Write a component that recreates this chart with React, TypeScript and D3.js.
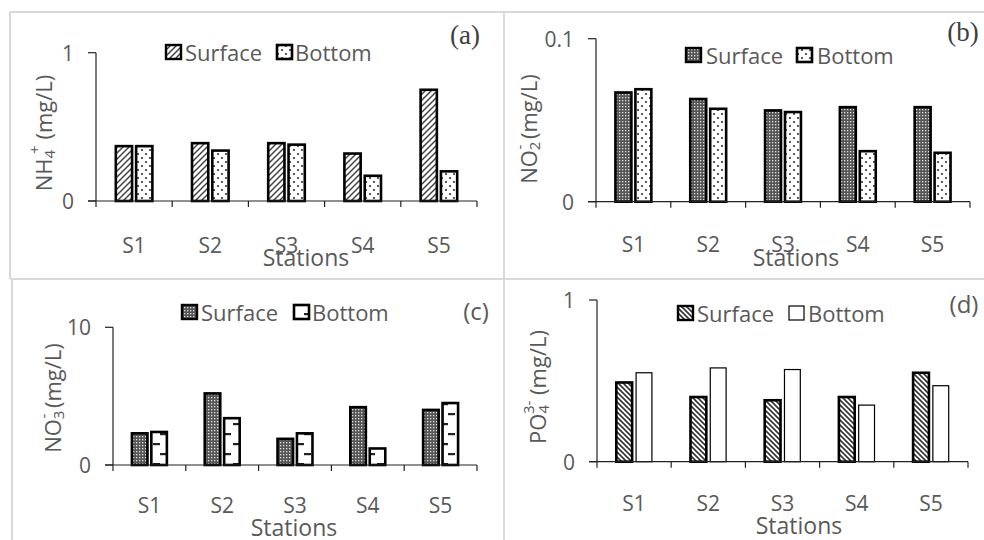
import React from 'react';
import * as d3 from 'd3';

// stations on the x axis
const stations = ['S1', 'S2', 'S3', 'S4', 'S5'];
const seriesNames = ['Surface', 'Bottom'];

// (a) NH4+
const nh4Surface = [0.37, 0.39, 0.39, 0.32, 0.75];
const nh4Bottom = [0.37, 0.34, 0.38, 0.17, 0.2];
const nh4Ticks = [0, 1];

// (b) NO2-
const no2Surface = [0.067, 0.063, 0.056, 0.058, 0.058];
const no2Bottom = [0.069, 0.057, 0.055, 0.031, 0.03];
const no2Ticks = [0, 0.1];

// (c) NO3-
const no3Surface = [2.3, 5.2, 1.9, 4.2, 4.0];
const no3Bottom = [2.4, 3.4, 2.3, 1.2, 4.5];
const no3Ticks = [0, 10];

// (d) PO4 3-
const po4Surface = [0.49, 0.4, 0.38, 0.4, 0.55];
const po4Bottom = [0.55, 0.58, 0.57, 0.35, 0.47];
const po4Ticks = [0, 1];

const FONT = '"Open Sans", "Liberation Sans", sans-serif';
const GRAY = '#595959';

interface PanelProps {
    surface: number[];
    bottom: number[];
    ticks: number[];
    x0: number;
    x1: number;
    yTop: number;
    yBase: number;
    fills: [string, string];
    bottomStroke: number;
    legend: { box1: number; text1: number; box2: number; text2: number; cy: number };
    tag: { text: string; x: number; y: number; serif: boolean };
    catY: number;
    title: { x: number; y: number };
    yLabel: { x: number; y: number; node: React.ReactNode };
}

const Panel: React.FC<PanelProps> = (p) => {
    const x = d3.scaleBand<string>().domain(stations).range([p.x0, p.x1]).padding(0);
    const y = d3.scaleLinear().domain([p.ticks[0], p.ticks[p.ticks.length - 1]]).range([p.yBase, p.yTop]);
    const groupW = x.bandwidth() * 0.48;
    const inner = d3.scaleBand<string>().domain(seriesNames).range([0, groupW]).paddingInner(0.2);
    const bounds = stations.map(s => x(s) as number).concat([p.x1]);
    const rows = stations.map((s, i) => ({ s, vals: [p.surface[i], p.bottom[i]] }));

    return (
        <g>
            {/* bars */}
            {rows.map(r => (
                <g key={r.s}>
                    {r.vals.map((v, j) => (
                        <rect
                            key={j}
                            x={(x(r.s) as number) + (x.bandwidth() - groupW) / 2 + (inner(seriesNames[j]) as number)}
                            y={y(v)}
                            width={inner.bandwidth()}
                            height={p.yBase - y(v)}
                            fill={p.fills[j]}
                            stroke="#000"
                            strokeWidth={j === 0 ? 2.6 : p.bottomStroke}
                        />
                    ))}
                </g>
            ))}
            {/* axes */}
            <line x1={p.x0} x2={p.x0} y1={p.yTop} y2={p.yBase} stroke="#222" strokeWidth={1.2} />
            <line x1={p.x0 - 8} x2={p.x1} y1={p.yBase} y2={p.yBase} stroke="#222" strokeWidth={1.2} />
            {p.ticks.map(t => (
                <g key={t}>
                    <line x1={p.x0 - 8} x2={p.x0} y1={y(t)} y2={y(t)} stroke="#222" strokeWidth={1.2} />
                    <text x={p.x0 - 22} y={y(t)} textAnchor="end" dominantBaseline="central"
                        fontSize={21} fill={GRAY} fontFamily={FONT}>{t}</text>
                </g>
            ))}
            {bounds.map((b, i) => (
                <line key={i} x1={b} x2={b} y1={p.yBase} y2={p.yBase + 6} stroke="#222" strokeWidth={1.2} />
            ))}
            {stations.map(s => (
                <text key={s} x={(x(s) as number) + x.bandwidth() / 2} y={p.catY} textAnchor="middle"
                    dominantBaseline="central" fontSize={21} fill={GRAY} fontFamily={FONT}>{s}</text>
            ))}
            <text x={p.title.x} y={p.title.y} textAnchor="middle" dominantBaseline="central"
                fontSize={23} fill={GRAY} fontFamily={FONT}>Stations</text>
            <text transform={`translate(${p.yLabel.x},${p.yLabel.y}) rotate(-90)`} textAnchor="middle"
                dominantBaseline="central" fontSize={22} fill={GRAY} fontFamily={FONT}>{p.yLabel.node}</text>
            {/* legend */}
            <rect x={p.legend.box1} y={p.legend.cy - 7} width={15} height={14} fill={p.fills[0]} stroke="#000" strokeWidth={2.4} />
            <text x={p.legend.text1} y={p.legend.cy} dominantBaseline="central" fontSize={22} fill={GRAY} fontFamily={FONT}>Surface</text>
            <rect x={p.legend.box2} y={p.legend.cy - 7} width={15} height={14} fill={p.fills[1]} stroke="#000" strokeWidth={p.bottomStroke} />
            <text x={p.legend.text2} y={p.legend.cy} dominantBaseline="central" fontSize={22} fill={GRAY} fontFamily={FONT}>Bottom</text>
            <text x={p.tag.x} y={p.tag.y} textAnchor="middle" dominantBaseline="central"
                fontSize={p.tag.serif ? 27 : 24}
                fill={p.tag.serif ? '#404040' : GRAY}
                fontFamily={p.tag.serif ? '"Liberation Serif", serif' : FONT}>{p.tag.text}</text>
        </g>
    );
};

const sub = (t: string) => <tspan dy={6} fontSize={15}>{t}</tspan>;
const sup = (t: string, dx: number) => <tspan dx={dx} dy={-15} fontSize={15}>{t}</tspan>;
const rest = <tspan dy={9}> (mg/L)</tspan>;

const App: React.FC = () => {
    return (
        <svg width={984} height={540} style={{ position: 'absolute', left: 0, top: 0, background: '#fff' }}>
            <defs>
                <pattern id="fwd" width={6} height={6} patternUnits="userSpaceOnUse">
                    <rect width={6} height={6} fill="#fff" />
                    <path d="M0,6 L6,0 M-1,1 L1,-1 M5,7 L7,5" stroke="#444" strokeWidth={1.5} />
                </pattern>
                <pattern id="back" width={5} height={5} patternUnits="userSpaceOnUse">
                    <rect width={5} height={5} fill="#fff" />
                    <path d="M0,0 L5,5 M-1,4 L1,6 M4,-1 L6,1" stroke="#333" strokeWidth={1.6} />
                </pattern>
                <pattern id="dots" width={8} height={8} patternUnits="userSpaceOnUse">
                    <rect width={8} height={8} fill="#fff" />
                    <circle cx={2} cy={2} r={1.1} fill="#333" />
                    <circle cx={6} cy={6} r={1.1} fill="#333" />
                </pattern>
                <pattern id="dense" width={3} height={3} patternUnits="userSpaceOnUse">
                    <rect width={3} height={3} fill="#555" />
                    <rect x={1} y={1} width={1.3} height={1.3} fill="#e0e0e0" />
                </pattern>
                <pattern id="dash" width={16} height={20} patternUnits="userSpaceOnUse">
                    <rect width={16} height={20} fill="#fff" />
                    <rect x={9} y={3} width={7} height={2.2} fill="#222" />
                    <rect x={0} y={13} width={7} height={2.2} fill="#222" />
                </pattern>
            </defs>

            {/* panel frames */}
            <g stroke="#d9d9d9" strokeWidth={2}>
                <line x1={10} x2={984} y1={12} y2={12} />
                <line x1={10} x2={984} y1={279} y2={279} />
                <line x1={10} x2={10} y1={12} y2={279} />
                <line x1={12} x2={12} y1={279} y2={540} />
                <line x1={504} x2={504} y1={12} y2={540} />
            </g>

            <Panel
                surface={nh4Surface} bottom={nh4Bottom} ticks={nh4Ticks}
                x0={96} x1={477} yTop={52.7} yBase={201}
                fills={['url(#fwd)', 'url(#dots)']} bottomStroke={2.6}
                legend={{ box1: 166, text1: 185, box2: 277, text2: 295, cy: 52 }}
                tag={{ text: '(a)', x: 465, y: 35, serif: true }}
                catY={245} title={{ x: 306, y: 257 }}
                yLabel={{ x: 43, y: 133, node: <>NH{sub('4')}{sup('+', -4)}{rest}</> }}
            />
            <Panel
                surface={no2Surface} bottom={no2Bottom} ticks={no2Ticks}
                x0={596} x1={970} yTop={38.7} yBase={201.7}
                fills={['url(#dense)', 'url(#dots)']} bottomStroke={2.6}
                legend={{ box1: 686, text1: 706, box2: 797, text2: 817, cy: 55 }}
                tag={{ text: '(b)', x: 963, y: 32, serif: true }}
                catY={244} title={{ x: 796, y: 257 }}
                yLabel={{ x: 528, y: 129, node: <>NO{sub('2')}{sup('-', -8)}{rest}</> }}
            />
            <Panel
                surface={no3Surface} bottom={no3Bottom} ticks={no3Ticks}
                x0={113} x1={477} yTop={327.3} yBase={465}
                fills={['url(#dense)', 'url(#dash)']} bottomStroke={2.6}
                legend={{ box1: 182, text1: 201, box2: 294, text2: 312, cy: 312 }}
                tag={{ text: '(c)', x: 476, y: 310, serif: false }}
                catY={505} title={{ x: 294, y: 527 }}
                yLabel={{ x: 52, y: 398, node: <>NO{sub('3')}{sup('-', -8)}{rest}</> }}
            />
            <Panel
                surface={po4Surface} bottom={po4Bottom} ticks={po4Ticks}
                x0={597} x1={968} yTop={300} yBase={461.7}
                fills={['url(#back)', '#fff']} bottomStroke={1.2}
                legend={{ box1: 678, text1: 697, box2: 789, text2: 808, cy: 313 }}
                tag={{ text: '(d)', x: 964, y: 303, serif: false }}
                catY={503} title={{ x: 799, y: 525 }}
                yLabel={{ x: 537, y: 387, node: <>PO{sub('4')}{sup('3-', -9)}{rest}</> }}
            />
        </svg>
    );
};

export default App;
